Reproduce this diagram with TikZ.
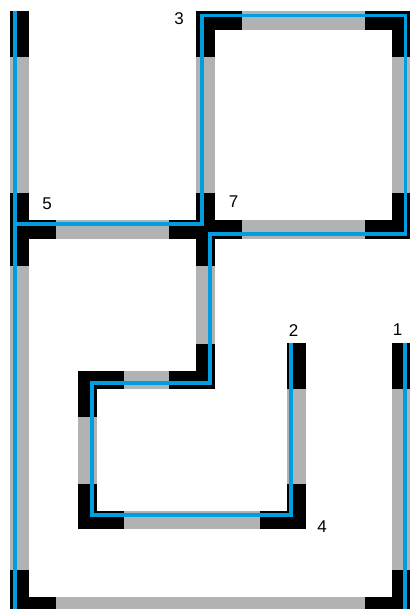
\documentclass[tikz,border=0pt]{standalone}
\usepackage{fontspec}
\setmainfont{Liberation Sans}
\usetikzlibrary{calc}
\definecolor{wallgray}{RGB}{177,178,180}
\definecolor{routeblue}{RGB}{0,157,224}
\tikzset{
  plan/wall/.style={draw=wallgray, line width=18.5pt, line cap=rect, line join=miter},
  plan/joint/.style={draw=black, line width=18.5pt, line join=miter},
  plan/route/.style={draw=routeblue, line width=3.8pt, line join=miter},
  plan/label/.style={font=\fontsize{17}{19}\selectfont, inner sep=0pt}
}
\newcommand{\armlen}{36.5}

\begin{document}
\begin{tikzpicture}[x=1pt, y=-1pt]
  \useasboundingbox (0,0) rectangle (412,609);
  \clip (0,0) rectangle (412,609);

  % wall corners and ends
  \coordinate (topend) at (19.5,20.5);
  \coordinate (c5) at (19.5,229.5);
  \coordinate (botleft) at (19.5,606.5);
  \coordinate (botright) at (401,606.5);
  \coordinate (end1) at (401,352.5);
  \coordinate (c3) at (205.5,20.5);
  \coordinate (topright) at (401,20.5);
  \coordinate (c7right) at (401,229.5);
  \coordinate (c7) at (205.5,229.5);
  \coordinate (mid) at (205.5,380);
  \coordinate (cupleft) at (87.5,380);
  \coordinate (cbotleft) at (87.5,520);
  \coordinate (c4) at (296.5,520);
  \coordinate (end2) at (296.5,352.5);

  % walls
  \draw[plan/wall] (topend) -- (botleft) -- (botright) -- (end1);
  \draw[plan/wall] (c5) -- (c7right);
  \draw[plan/wall] (c7) -- (c3) -- (topright) -- (c7right);
  \draw[plan/wall] (c7) -- (mid) -- (cupleft) -- (cbotleft) -- (c4) -- (end2);

  % black pieces at corners, junctions and ends
  \draw[plan/joint] (19.5,11) -- ($(topend)+(0,\armlen)$);
  \draw[plan/joint] ($(c5)+(0,-\armlen)$) -- ($(c5)+(0,\armlen)$);
  \draw[plan/joint] (c5) -- ($(c5)+(\armlen,0)$);
  \draw[plan/joint] ($(botleft)+(0,-\armlen)$) -- (botleft) -- ($(botleft)+(\armlen,0)$);
  \draw[plan/joint] ($(botright)+(0,-\armlen)$) -- (botright) -- ($(botright)+(-\armlen,0)$);
  \draw[plan/joint] (401,343.25) -- ($(end1)+(0,\armlen)$);
  \draw[plan/joint] ($(c3)+(0,\armlen)$) -- (c3) -- ($(c3)+(\armlen,0)$);
  \draw[plan/joint] ($(topright)+(0,\armlen)$) -- (topright) -- ($(topright)+(-\armlen,0)$);
  \draw[plan/joint] ($(c7right)+(0,-\armlen)$) -- (c7right) -- ($(c7right)+(-\armlen,0)$);
  \draw[plan/joint] ($(c7)+(0,-\armlen)$) -- ($(c7)+(0,\armlen)$);
  \draw[plan/joint] ($(c7)+(-\armlen,0)$) -- ($(c7)+(\armlen,0)$);
  \draw[plan/joint] ($(mid)+(0,-\armlen)$) -- (mid) -- ($(mid)+(-\armlen,0)$);
  \draw[plan/joint] ($(cupleft)+(\armlen,0)$) -- (cupleft) -- ($(cupleft)+(0,\armlen)$);
  \draw[plan/joint] ($(cbotleft)+(0,-\armlen)$) -- (cbotleft) -- ($(cbotleft)+(\armlen,0)$);
  \draw[plan/joint] ($(c4)+(-\armlen,0)$) -- (c4) -- ($(c4)+(0,-\armlen)$);
  \draw[plan/joint] (296.5,343.25) -- ($(end2)+(0,\armlen)$);

  % route
  \draw[plan/route] (15,11) -- (15,224.3) -- (202,224.3) -- (202,15.5) -- (405.5,15.5)
    -- (405.5,233.7) -- (210,233.7) -- (210,383) -- (91.7,383) -- (91.7,515.3)
    -- (291,515.3) -- (291,343);
  \draw[plan/route] (15,224.3) -- (15,625) -- (405,625) -- (405,343);

  % labels
  \node[plan/label] (lab3) at (179,19) {3};
  \node[plan/label] (lab5) at (47,204) {5};
  \node[plan/label] (lab7) at (233.5,201.5) {7};
  \node[plan/label] (lab2) at (293.5,331) {2};
  \node[plan/label] (lab1) at (397.5,329.5) {1};
  \node[plan/label] (lab4) at (322,527) {4};
\end{tikzpicture}
\end{document}
